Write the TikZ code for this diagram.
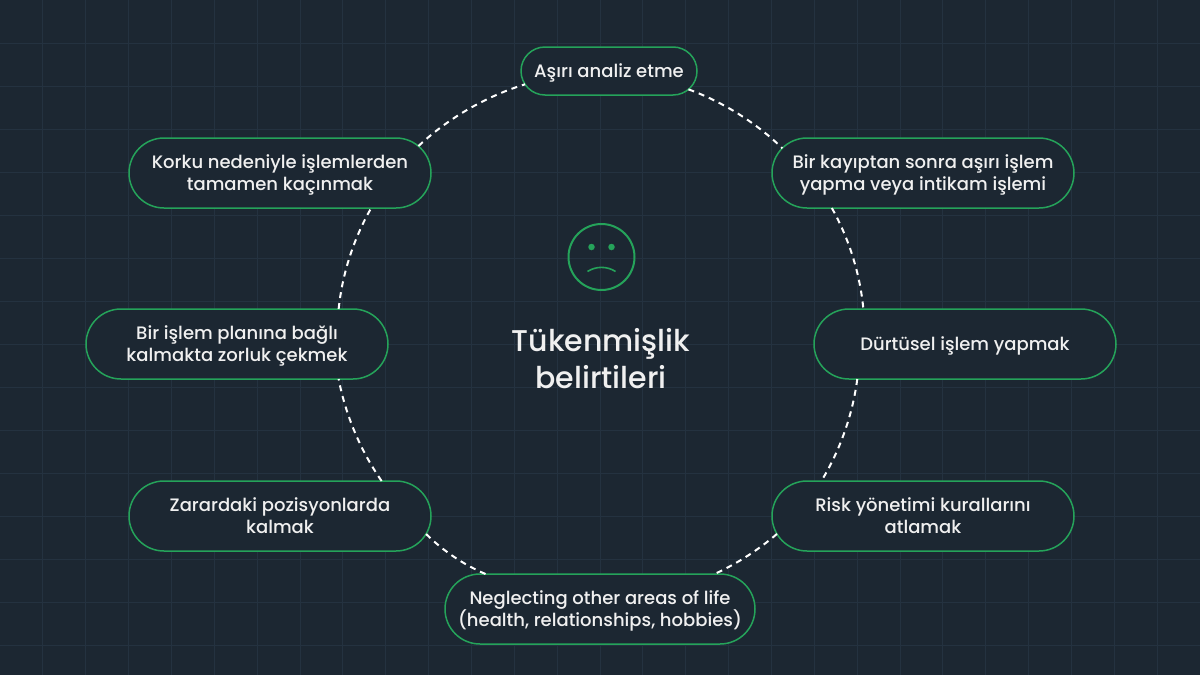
\documentclass[tikz,border=0pt]{standalone}
\usepackage{fontspec}
\setmainfont{Poppins}[UprightFont=* Medium]
\usepackage{tikz}
\usetikzlibrary{shapes.misc,calc}
\definecolor{bgdark}{HTML}{1C2732}
\definecolor{gridc}{HTML}{243240}
\definecolor{pillgreen}{HTML}{25A35A}
\definecolor{textc}{HTML}{F0F0F0}
\newcommand{\tallline}{\rule{0pt}{18.5pt}}
\tikzstyle{symptom}=[rounded rectangle, draw=pillgreen, line width=1.5pt, fill=bgdark, text=textc, align=center, outer sep=0pt, inner sep=0pt, font=\fontsize{18}{22}\selectfont, execute at end node={\rule[-5pt]{0pt}{5pt}}]
\tikzstyle{link}=[draw=white, line width=2pt, dash pattern=on 6pt off 5pt]

\begin{document}
\begin{tikzpicture}[x=1pt,y=-1pt,wide/.style={symptom,minimum width=302pt,minimum height=70pt}]
\useasboundingbox (0,0) rectangle (1200,675);
\fill[bgdark] (0,0) rectangle (1200,675);
\foreach \i in {1,...,27} \draw[gridc, line width=1pt] ({\i*42.857},0) -- ({\i*42.857},675);
\foreach \j in {1,...,15} \draw[gridc, line width=1pt] (0,{\j*43}) -- (1200,{\j*43});
% pills
\node (top) at (609,71) [symptom, minimum width=176pt, minimum height=48pt] {\tallline Aşırı analiz etme};
\node (revenge) at (923,173) [wide] {\tallline Bir kayıptan sonra aşırı işlem\\yapma veya intikam işlemi};
\node (impulse) at (965,344) [wide] {\tallline Dürtüsel işlem yapmak};
\node (risk) at (923,516) [wide] {\tallline Risk yönetimi kurallarını\\atlamak};
\node (neglect) at (600,609) [symptom, minimum width=310pt, minimum height=70pt] {\tallline Neglecting other areas of life\\(health, relationships, hobbies)};
\node (losing) at (280,516) [wide] {\tallline Zarardaki pozisyonlarda\\kalmak};
\node (plan) at (237,344) [wide] {\tallline Bir işlem planına bağlı\\kalmakta zorluk çekmek};
\node (fear) at (280,173) [wide] {\tallline Korku nedeniyle işlemlerden\\tamamen kaçınmak};
% dashed ring
\draw[link] (top.-13) to [bend left=12, looseness=.85] (revenge.170);
\draw[link] (revenge.201) to [bend left=12, looseness=.85] (impulse.161.5);
\draw[link] (impulse.198.5) to [bend left=12, looseness=.85] (risk.161.5);
\draw[link] (risk.187) to [bend left=8, looseness=.85] (neglect.17);
\draw[link] (neglect.163) to [bend left=11, looseness=.85] (losing.-7);
\draw[link] (losing.19) to [bend left=12, looseness=.85] (plan.-19);
\draw[link] (plan.19) to [bend left=12, looseness=.85] (fear.-21);
\draw[link] (fear.11) to [bend left=13, looseness=.85] (top.189);
% face
\node (face) at (601.5,257) [circle, draw=pillgreen, line width=2pt, minimum size=66pt, inner sep=0pt] {};
\node (eyeL) at (591.5,247) [circle, fill=pillgreen, minimum size=6.5pt, inner sep=0pt] {};
\node (eyeR) at (611.5,247) [circle, fill=pillgreen, minimum size=6.5pt, inner sep=0pt] {};
\coordinate (mouthL) at (587.5,271.5);
\coordinate (mouthR) at (615.5,271.5);
\draw[pillgreen, line width=1.6pt] (mouthL) .. controls (596,266) and (607,266) .. (mouthR);
% title
\node (title) at (601,359) [align=center, text=textc, font=\fontsize{30}{37}\selectfont] {Tükenmişlik\\belirtileri};
\end{tikzpicture}
\end{document}
